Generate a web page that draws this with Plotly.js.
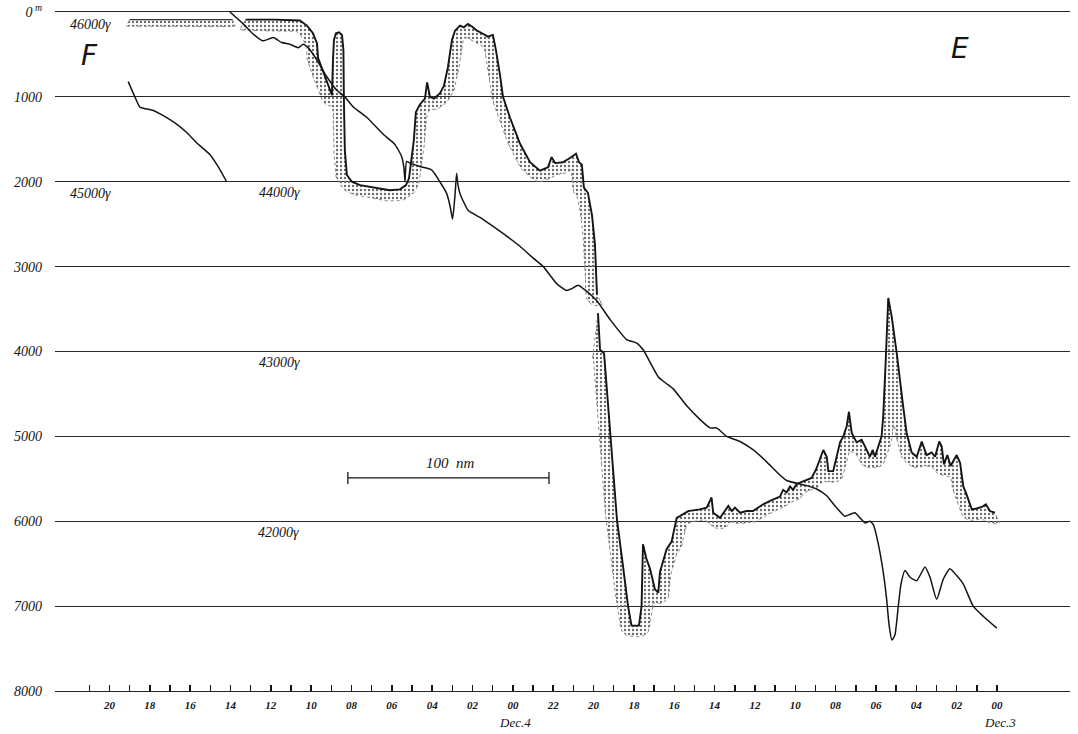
<!DOCTYPE html>
<html><head><meta charset="utf-8">
<script src="https://cdn.plot.ly/plotly-3.0.1.min.js"></script>
<style>html,body{margin:0;padding:0;background:#fff}#chart{width:1078px;height:734px}</style>
</head><body><div id="chart"></div>
<script>
// x: hours before Dec.3 00h (time runs right-to-left), y: depth in metres
const shelfHours = [43.0, 37.9];
const shelfDepth = [90, 90];

const westHours = [37.25,35.80,34.56,34.21,33.91,33.71,33.66,33.27,32.97,32.92,32.87,32.77,32.62,32.47,32.40,32.38,32.33,32.23,31.98,31.58,30.84,30.10,29.60,29.30,29.15,29.05,28.91,28.81,28.61,28.36,28.25,28.11,27.91,27.62,27.42,27.22,27.02,26.87,26.62,26.43,26.23,26.03,25.78,25.53,25.24,24.99,24.84,24.64,24.49,24.15,23.65,23.15,22.66,22.26,22.08,21.91,21.52,21.17,20.87,20.72,20.58,20.48,20.28,20.08,19.93,19.83];
const westDepth = [90,90,100,160,250,370,540,800,980,570,330,250,240,270,450,1000,1630,1920,2000,2040,2070,2100,2090,2040,1960,1750,1510,1180,1090,1020,830,1000,1020,960,870,650,330,220,160,180,140,170,220,250,290,270,450,740,1000,1240,1550,1770,1870,1830,1710,1780,1770,1720,1670,1770,1800,2070,2130,2390,2740,3330];

const eastHours = [19.78,19.68,19.48,19.19,18.84,18.54,18.29,18.12,17.75,17.62,17.55,17.37,17.20,16.96,16.79,16.71,16.38,16.13,15.88,15.72,15.31,14.73,14.39,14.15,14.07,13.73,13.49,13.32,13.15,12.99,12.74,12.41,12.10,11.59,11.25,10.76,10.60,10.43,10.26,10.11,9.93,9.43,9.19,8.97,8.78,8.61,8.44,8.36,8.12,7.78,7.62,7.45,7.34,7.20,6.96,6.71,6.54,6.30,6.16,6.05,5.72,5.64,5.52,5.39,5.22,4.97,4.65,4.48,4.23,3.98,3.73,3.49,3.24,3.07,2.86,2.74,2.63,2.46,2.30,2.17,2.00,1.83,1.67,1.50,1.25,1.01,0.74,0.55,0.35,0.10];
const eastDepth = [3550,3980,4020,4960,5980,6530,7000,7230,7230,7000,6270,6450,6560,6800,6840,6600,6330,6240,5960,5940,5880,5860,5840,5720,5900,5960,5880,5820,5880,5840,5900,5880,5880,5800,5760,5710,5630,5660,5590,5630,5560,5510,5490,5390,5270,5160,5240,5410,5410,5070,5000,4880,4710,4960,5070,5040,5120,5240,5160,5240,5000,4760,4130,3370,3590,4020,4650,4960,5190,5240,5060,5220,5190,5240,5060,5120,5330,5220,5350,5290,5220,5310,5590,5690,5860,5850,5830,5800,5880,5900];

// total magnetic force (gamma); first trace on the 46000-42000 scale, second on 45000-41000
const mag1Hours = [43.07,42.74,42.49,41.83,41.33,40.67,40.17,39.68,39.02,38.62,38.19];
const mag1Gamma = [45590,45500,45440,45420,45390,45340,45290,45230,45160,45090,45000];
const mag2Hours = [38.03,37.37,36.87,36.38,35.88,35.46,35.05,34.64,34.39,34.15,33.73,33.23,32.74,32.33,31.91,31.25,30.43,29.85,29.52,29.40,29.35,29.27,29.10,28.61,28.03,27.62,27.28,27.12,26.99,26.87,26.79,26.72,26.62,26.21,25.63,25.14,24.31,23.65,22.99,22.49,21.83,21.33,21.09,20.76,20.51,19.85,19.19,18.36,17.86,17.54,16.79,16.38,16.05,15.38,14.73,14.23,13.90,13.40,12.74,12.08,11.42,10.92,10.43,9.43,8.94,8.44,8.03,7.54,7.29,7.04,6.79,6.54,6.30,6.13,5.89,5.64,5.47,5.35,5.21,5.06,4.91,4.76,4.56,4.31,3.98,3.57,3.32,2.99,2.66,2.33,2.00,1.67,1.18,0.68,0.01];
const mag2Gamma = [45000,44930,44870,44830,44850,44820,44810,44790,44810,44790,44720,44620,44540,44500,44440,44380,44280,44220,44150,44080,44000,44120,44110,44090,44070,44000,43930,43860,43780,43920,44050,43980,43930,43830,43790,43750,43680,43620,43550,43500,43400,43360,43370,43390,43370,43300,43190,43070,43050,43010,42850,42810,42780,42680,42600,42550,42550,42500,42470,42420,42350,42290,42240,42210,42190,42150,42090,42030,42040,42050,42020,41990,42000,41980,41870,41700,41540,41390,41300,41330,41480,41630,41710,41670,41650,41730,41670,41540,41660,41720,41680,41630,41500,41440,41370];

const labelHours = [0,2,4,6,8,10,12,14,16,18,20,22,24,26,28,30,32,34,36,38,40,42,44];
const labelText = ['00','02','04','06','08','10','12','14','16','18','20','22','00','02','04','06','08','10','12','14','16','18','20'];
const oddHours = [1,3,5,7,9,11,13,15,17,19,21,23,25,27,29,31,33,35,37,39,41,43,45];
const depthTicks = [0,1000,2000,3000,4000,5000,6000,7000,8000];
const depthTickText = ['0<sup> m</sup>','1000','2000','3000','4000','5000','6000','7000','8000'];

const X_RANGE = [46.7, -3.62];
const PLOT_W = 1078 - 55 - 8, PLOT_H = 734 - 12 - 43;
const SX = PLOT_W / (X_RANGE[0] - X_RANGE[1]);
const SY = PLOT_H / 8000;

// stippled band drawn under the pen line (a disc rolled below the profile)
function stippleBand(hours, metres, r) {
  const pts = hours.map((h, i) => [-h * SX, metres[i] * SY]);
  const samples = [];
  for (let i = 0; i < pts.length - 1; i++) {
    const [x0, y0] = pts[i], [x1, y1] = pts[i + 1];
    const n = Math.max(1, Math.ceil(Math.hypot(x1 - x0, y1 - y0) / 0.5));
    for (let k = 0; k < n; k++) { const t = k / n; samples.push([x0 + (x1 - x0) * t, y0 + (y1 - y0) * t]); }
  }
  samples.push(pts[pts.length - 1]);
  let minX = Infinity, maxX = -Infinity;
  samples.forEach(s => { minX = Math.min(minX, s[0]); maxX = Math.max(maxX, s[0]); });
  const low = [];
  for (let c = minX - r * 0.5; c <= maxX + r * 0.5 + 1e-9; c += 1) {
    let best = -Infinity;
    for (const [sx, sy] of samples) {
      const dx = sx - c;
      if (Math.abs(dx) <= r) { const v = sy + Math.sqrt(r * r - dx * dx); if (v > best) best = v; }
    }
    low.push([c, best]);
  }
  const bx = [], by = [];
  pts.forEach(p => { bx.push(-p[0] / SX); by.push(p[1] / SY); });
  for (let i = low.length - 1; i >= 0; i--) { bx.push(-low[i][0] / SX); by.push(low[i][1] / SY); }
  bx.push(bx[0]); by.push(by[0]);
  return { x: bx, y: by };
}

const ink = '#151515';
const traces = [];
[[shelfHours, shelfDepth, 7], [westHours, westDepth, 11], [eastHours, eastDepth, 11]].forEach(([h, d, r]) => {
  const b = stippleBand(h, d, r);
  traces.push({
    type: 'scatter', mode: 'lines', x: b.x, y: b.y, fill: 'toself',
    fillcolor: 'rgba(0,0,0,0)',
    fillpattern: { shape: '.', fgcolor: '#6a6a6a', bgcolor: 'rgba(255,255,255,0)', size: 4, solidity: 0.28 },
    line: { color: '#8a8a8a', width: 1, dash: 'dot' }, hoverinfo: 'skip'
  });
});
traces.push({ type: 'scatter', mode: 'lines', x: shelfHours, y: shelfDepth, line: { color: '#333', width: 1.1 } });
[[westHours, westDepth], [eastHours, eastDepth]].forEach(([h, d]) => {
  traces.push({ type: 'scatter', mode: 'lines', x: h, y: d, line: { color: ink, width: 1.9 } });
});
traces.push({ type: 'scatter', mode: 'lines', x: mag1Hours, y: mag1Gamma, yaxis: 'y3', line: { color: ink, width: 1.5, shape: 'spline', smoothing: 0.5 } });
traces.push({ type: 'scatter', mode: 'lines', x: mag2Hours, y: mag2Gamma, yaxis: 'y2', line: { color: ink, width: 1.5, shape: 'spline', smoothing: 0.5 } });

const hand = { family: 'Liberation Serif, DejaVu Serif, serif', color: ink, style: 'italic' };
function note(text, x, y, size, xanchor, extra) {
  return Object.assign({ text, x, y, xref: 'x', yref: 'y', showarrow: false, xanchor: xanchor || 'center', yanchor: 'middle',
    font: Object.assign({}, hand, { size: size }) }, extra || {});
}
const bigLetter = { family: 'DejaVu Sans, sans-serif', size: 28, color: ink, style: 'italic', weight: 300 };
const annotations = [
  note('F', 44.97, 510, 28, 'center', { font: bigLetter }),
  note('E', 1.83, 430, 28, 'center', { font: bigLetter }),
  note('46000γ', 46.05, 150, 14, 'left'),
  note('45000γ', 46.05, 2140, 14, 'left'),
  note('44000γ', 36.7, 2130, 14, 'left'),
  note('43000γ', 36.7, 4130, 14, 'left'),
  note('42000γ', 36.75, 6130, 14, 'left'),
  note('100  nm', 27.1, 5310, 15, 'center'),
  { text: 'Dec.4', x: 23.9, y: -0.046, xref: 'x', yref: 'paper', showarrow: false, xanchor: 'center', yanchor: 'middle', font: Object.assign({}, hand, { size: 13 }) },
  { text: 'Dec.3', x: -0.15, y: -0.046, xref: 'x', yref: 'paper', showarrow: false, xanchor: 'center', yanchor: 'middle', font: Object.assign({}, hand, { size: 13 }) }
];

const bar = { color: ink, width: 1.3 };
const shapes = [
  { type: 'line', xref: 'x', yref: 'y', x0: 32.18, x1: 22.21, y0: 5490, y1: 5490, line: bar },
  { type: 'line', xref: 'x', yref: 'y', x0: 32.18, x1: 32.18, y0: 5420, y1: 5560, line: bar },
  { type: 'line', xref: 'x', yref: 'y', x0: 22.21, x1: 22.21, y0: 5420, y1: 5560, line: bar }
];

const layout = {
  width: 1078, height: 734,
  margin: { l: 55, r: 8, t: 12, b: 43 },
  paper_bgcolor: '#fff', plot_bgcolor: '#fff',
  showlegend: false,
  xaxis: {
    range: X_RANGE, tickmode: 'array', tickvals: labelHours, ticktext: labelText,
    ticks: 'inside', ticklen: 6, tickwidth: 1.5, tickcolor: ink,
    minor: { tickmode: 'array', tickvals: oddHours, ticks: 'inside', ticklen: 6, tickwidth: 1.5, tickcolor: ink, showgrid: false },
    showgrid: false, zeroline: false, showline: true, mirror: true, linecolor: '#222', linewidth: 1.2,
    tickfont: Object.assign({}, hand, { size: 11, weight: 'bold' }), ticklabelstandoff: 4
  },
  yaxis: {
    range: [8000, 0], tickmode: 'array', tickvals: depthTicks, ticktext: depthTickText,
    showgrid: true, gridcolor: '#2a2a2a', gridwidth: 1.2, zeroline: false, showline: false,
    ticks: '', ticklabelstandoff: 12, tickfont: Object.assign({}, hand, { size: 14 })
  },
  yaxis2: { range: [41000, 45000], overlaying: 'y', visible: false },
  yaxis3: { range: [42000, 46000], overlaying: 'y', visible: false },
  annotations, shapes
};

Plotly.newPlot('chart', traces, layout, { staticPlot: true, displayModeBar: false });
</script>
</body></html>
